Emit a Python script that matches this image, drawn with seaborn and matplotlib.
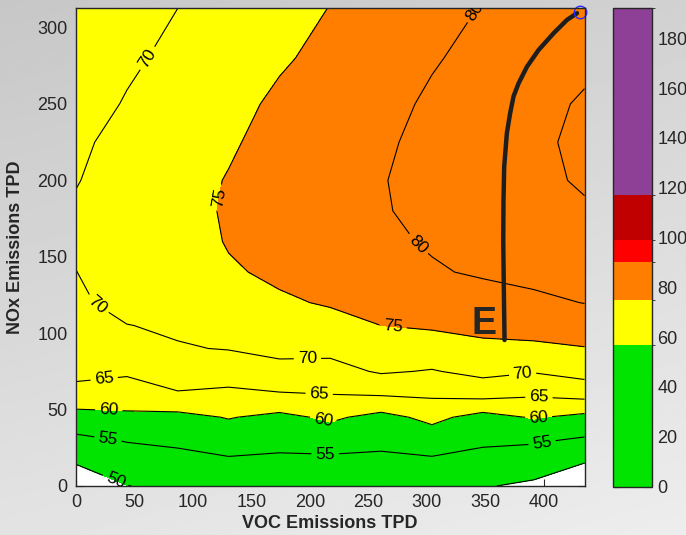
import numpy as np
import matplotlib
matplotlib.use('Agg')
import matplotlib.pyplot as plt
from matplotlib.colors import ListedColormap, BoundaryNorm
from matplotlib.cm import ScalarMappable
import seaborn as sns

# Data: ozone (ppb) on a VOC x NOx grid
voc_tpd = [0, 43.5, 87, 130.5, 174, 217.5, 261, 304.5, 348, 391.5, 435]
nox_tpd = [0, 15, 30, 45, 60, 75, 90, 105, 120, 140, 160, 180, 200, 225, 250, 280, 312.5]

# one row per NOx level, one column per VOC level
ozone_ppb = [
    [46.6, 49.9, 51.0, 50.5, 50.5, 50.5, 51.0, 50.8, 50.3, 49.2, 45.6],
    [50.2, 52.6, 53.3, 54.1, 53.7, 53.7, 53.6, 54.0, 53.0, 52.2, 50.0],
    [53.9, 55.25, 55.9, 57.2, 56.6, 57.1, 56.3, 57.4, 55.9, 55.6, 54.4],
    [58.1, 59.0, 58.6, 60.25, 58.8, 60.8, 58.5, 61.25, 58.2, 60.4, 58.7],
    [63.5, 62.6, 64.6, 64.0, 64.6, 65.0, 65.4, 65.8, 66.7, 65.6, 66.7],
    [66.2, 65.7, 67.3, 67.2, 68.7, 68.4, 70.5, 69.7, 71.3, 70.3, 71.8],
    [67.2, 67.8, 69.7, 70.2, 71.1, 71.2, 72.7, 73.0, 74.0, 74.1, 74.8],
    [68.3, 69.9, 70.6, 71.25, 72.8, 73.5, 75.0, 75.5, 76.2, 76.8, 77.5],
    [69.2, 71.5, 71.3, 72.4, 74.4, 75.4, 76.3, 77.0, 78.2, 79.1, 80.1],
    [69.95, 72.0, 72.2, 74.5, 75.8, 76.6, 78.2, 79.6, 80.5, 81.2, 81.5],
    [70.6, 72.2, 72.8, 75.3, 76.7, 77.5, 79.2, 80.4, 81.7, 82.6, 83.0],
    [70.5, 72.2, 73.0, 75.6, 77.3, 78.1, 79.7, 81.0, 82.4, 83.6, 84.6],
    [69.8, 71.9, 72.9, 75.3, 77.5, 78.3, 79.8, 81.3, 82.7, 84.2, 85.4],
    [69.3, 71.2, 72.5, 74.3, 77.0, 78.0, 79.4, 81.1, 82.6, 84.1, 86.0],
    [68.2, 70.3, 71.8, 73.5, 75.9, 77.3, 78.6, 80.7, 82.1, 83.7, 85.5],
    [67.4, 69.3, 71.0, 72.6, 74.4, 76.3, 77.8, 79.6, 81.3, 82.7, 84.0],
    [66.6, 68.3, 70.0, 71.7, 73.4, 75.1, 76.8, 78.5, 80.2, 81.5, 82.5],
]

contour_levels = [50, 55, 60, 65, 70, 75, 80, 85, 90]

# colour scale of the colorbar
scale_bounds = [0, 57, 75, 90, 99, 117, 192]
scale_colors = ['#00e400', '#ffff00', '#ff7e00', '#ff0000', '#c00000', '#8e3f96']

# control path "E"
path_voc = [366.6, 366.0, 365.5, 365.7, 366.3, 368.6, 371.4, 374.3, 378.6,
            385.8, 395.7, 408.6, 420.0, 428.6]
path_nox = [95.5, 128, 160, 187, 209, 231, 244, 255, 263.5,
            274.4, 285.3, 296.3, 305, 309.4]
end_voc = [431]
end_nox = [310]

label_pos = [(34, 4), (27, 29), (213, 17), (399, 27), (28, 48), (211, 41),
             (396, 43), (24, 71), (208, 60), (396, 58), (17, 117), (198, 81),
             (382, 74), (61, 280), (126, 188), (271, 103), (290, 156), (343, 310)]

sns.set_style('ticks')
plt.rcParams['font.family'] = ['Liberation Sans', 'DejaVu Sans']

fig = plt.figure(figsize=(6.86, 5.35), dpi=100)

# grey gradient background
bg = fig.add_axes([0, 0, 1, 1], zorder=-5)
gy, gx = np.mgrid[0:1:200j, 0:1:200j]
bg.imshow(0.78 + 0.11 * gy + 0.04 * gx, cmap='gray', vmin=0, vmax=1,
          extent=[0, 1, 0, 1], aspect='auto')
bg.axis('off')

ax = fig.add_axes([76 / 686, 49 / 535, 508.5 / 686, 477.7 / 535])
ax.set_facecolor('white')

cmap = ListedColormap(scale_colors)
norm = BoundaryNorm(scale_bounds, cmap.N)
band_colors = [cmap(norm(v)) for v in contour_levels[:-1]]

X, Y = np.meshgrid(voc_tpd, nox_tpd)
Z = np.array(ozone_ppb)

ax.contourf(X, Y, Z, levels=contour_levels, colors=band_colors)
cs = ax.contour(X, Y, Z, levels=contour_levels[:-1], colors='black', linewidths=0.8)
ax.clabel(cs, manual=label_pos, fontsize=12.5, inline=True, fmt='%d', inline_spacing=4)

sns.lineplot(x=path_voc, y=path_nox, sort=False, color='#1e1e1e', linewidth=3.2, ax=ax)
ax.plot(end_voc, end_nox, 'o', mfc='none', mec='#2a2aff', ms=9, mew=1, clip_on=False)
ax.text(349, 106, 'E', fontsize=27, fontweight='bold', ha='center', va='center')

ax.set_xlim(0, 435)
ax.set_ylim(0, 312.6)
ax.set_xticks(range(0, 401, 50))
ax.set_yticks(range(0, 301, 50))
ax.tick_params(direction='in', top=True, right=True, length=5, width=0.8,
               labelsize=13, pad=6)
for s in ax.spines.values():
    s.set_linewidth(1.0)
ax.set_xlabel('VOC Emissions TPD', fontsize=13, fontweight='bold', labelpad=3)
ax.set_ylabel('NOx Emissions TPD', fontsize=13, fontweight='bold', labelpad=10)

# colorbar
cax = fig.add_axes([613.3 / 686, 48.5 / 535, 38.4 / 686, 478.2 / 535])
cb = fig.colorbar(ScalarMappable(norm=norm, cmap=cmap), cax=cax,
                  ticks=range(0, 181, 20), spacing='proportional')
cb.outline.set_linewidth(1.0)
cax.tick_params(direction='in', left=True, right=True, length=5, width=0.8,
                labelsize=13, pad=4)

plt.savefig('out.png', dpi=100)
plt.close()
